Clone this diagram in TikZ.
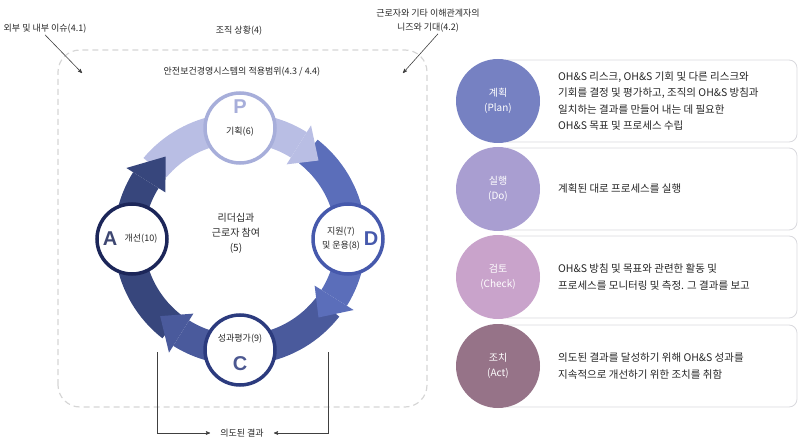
\documentclass[tikz,border=0pt]{standalone}
\usepackage{fontspec}
\setmainfont{Noto Sans CJK KR}
\newfontfamily\letterfont{Liberation Sans}
\usetikzlibrary{positioning}
\usetikzlibrary{arrows}
\usetikzlibrary{calc}
\definecolor{textgray}{HTML}{262626}
\definecolor{framegray}{HTML}{D6D6D6}
\definecolor{boxgray}{HTML}{D9D9DE}
\definecolor{planband}{HTML}{B9BEE4}
\definecolor{doband}{HTML}{5B6EBA}
\definecolor{checkband}{HTML}{4A5A9C}
\definecolor{actband}{HTML}{37467C}
\definecolor{planring}{HTML}{A7AEDA}
\definecolor{doring}{HTML}{4659AC}
\definecolor{checkring}{HTML}{2C3B7E}
\definecolor{actring}{HTML}{1C2659}
\definecolor{plandotcol}{HTML}{7681C2}
\definecolor{dodotcol}{HTML}{A99ED1}
\definecolor{checkdotcol}{HTML}{C9A3CB}
\definecolor{actdotcol}{HTML}{967388}
\tikzset{>=stealth'}
\tikzset{stage/.style={draw,circle,fill=white,line width=3.5pt,minimum size=70pt,inner sep=0pt}}
\tikzset{letter/.style={inner sep=0pt,font=\letterfont\bfseries\fontsize{20}{20}\selectfont}}
\tikzset{txt/.style={inner sep=1pt,text=textgray,align=center,font=\fontsize{9}{14}\selectfont}}
\tikzset{rowdot/.style={circle,minimum size=84pt,inner sep=0pt,text=white,align=center,font=\fontsize{10}{15}\selectfont}}
\tikzset{rowbox/.style={draw=boxgray,line width=0.8pt,rounded corners=8pt,fill=white,minimum width=297pt,minimum height=82pt}}
\tikzset{rowtext/.style={anchor=west,inner sep=0pt,text=textgray,align=left,font=\fontsize{10.5}{16.5}\selectfont}}
\tikzset{pointer/.style={->,draw=black!75,line width=0.6pt}}

\begin{document}
\begin{tikzpicture}[x=1pt,y=1pt]
\useasboundingbox (0,0) rectangle (800,442);

% context frame
\draw[framegray,dashed,dash pattern=on 6pt off 4pt,line width=1.2pt,rounded corners=22pt] (58,35) rectangle (427,392);

\node[txt] (issues) at (45,413) {외부 및 내부 이슈(4.1)};
\node[txt] (context) at (239,411) {조직 상황(4)};
\node[txt] (needs) at (428,421) {근로자와 기타 이해관계자의\\니즈와 기대(4.2)};
\node[txt] (scope) at (242,370) {안전보건경영시스템의 적용범위(4.3 / 4.4)};

\coordinate (issuehead) at (82,369);
\coordinate (needshead) at (403,369);
\draw[pointer] (issues.south) -- (issuehead);
\draw[pointer] ([xshift=10pt]needs.south) -- (needshead);

% cycle
\coordinate (o) at (240,203);
\foreach \col/\s/\b in {planband/140/58, doband/52/-32, checkband/-38/-122, actband/-128/-212}
  \fill[\col,shift={(o)}] (\s:126) arc[start angle=\s,end angle=\b,radius=126]
    -- (\b:96) arc[start angle=\b,end angle=\s,radius=96] -- cycle;
\foreach \col/\b/\t in {planband/58/45, doband/-32/-45, checkband/-122/-136, actband/-212/-228}
  \fill[\col,shift={(o)}] (\b:134) -- (\t:111) -- (\b:88) -- cycle;

\node[stage,draw=planring] (plan) at ($(o)+(90:111)$) {};
\node[stage,draw=doring] (do) at ($(o)+(0:108)$) {};
\node[stage,draw=checkring] (check) at ($(o)+(270:111)$) {};
\node[stage,draw=actring] (act) at ($(o)+(180:108)$) {};

\node[letter,text=planring] (pletter) at ($(plan)+(0,21)$) {P};
\node[txt] (plabel) at ($(plan)+(0,-4)$) {기획(6)};
\node[txt] (dlabel) at ($(do)+(-7,0)$) {지원(7)\\및 운용(8)};
\node[letter,text=doring] (dletter) at ($(do)+(23,0)$) {D};
\node[txt] (clabel) at ($(check)+(0,11)$) {성과평가(9)};
\node[letter,text=checkring!85!white] (cletter) at ($(check)+(0,-14)$) {C};
\node[letter,text=actring!85!white] (aletter) at ($(act)+(-22,0)$) {A};
\node[txt] (alabel) at ($(act)+(9,0)$) {개선(10)};

\node[txt,font=\fontsize{10}{15}\selectfont] (lead) at ($(o)+(-4,6)$) {리더십과\\근로자 참여\\(5)};

% intended outcome
\coordinate (outl) at (157,90);
\coordinate (outr) at (328,90);
\node[txt,inner xsep=10pt] (outcome) at (242,9) {의도된 결과};
\draw[pointer] (outl) |- (outcome.west);
\draw[pointer] (outr) |- (outcome.east);

% PDCA rows
\node[rowbox] (planbox) at (648.5,341) {};
\node[rowbox] (dobox) at (648.5,253) {};
\node[rowbox] (checkbox) at (648.5,165) {};
\node[rowbox] (actbox) at (648.5,76) {};

\node[rowdot,fill=plandotcol] (plandot) at (498,341) {계획\\(Plan)};
\node[rowdot,fill=dodotcol] (dodot) at (498,253) {실행\\(Do)};
\node[rowdot,fill=checkdotcol] (checkdot) at (498,165) {검토\\(Check)};
\node[rowdot,fill=actdotcol] (actdot) at (498,76) {조치\\(Act)};

\node[rowtext] (plantext) at (558,341) {OH\&S 리스크, OH\&S 기회 및 다른 리스크와\\기회를 결정 및 평가하고, 조직의 OH\&S 방침과\\일치하는 결과를 만들어 내는 데 필요한\\OH\&S 목표 및 프로세스 수립};
\node[rowtext] (dotext) at (558,253) {계획된 대로 프로세스를 실행};
\node[rowtext] (checktext) at (558,165) {OH\&S 방침 및 목표와 관련한 활동 및\\프로세스를 모니터링 및 측정. 그 결과를 보고};
\node[rowtext] (acttext) at (558,76) {의도된 결과를 달성하기 위해 OH\&S 성과를\\지속적으로 개선하기 위한 조치를 취함};
\end{tikzpicture}
\end{document}
